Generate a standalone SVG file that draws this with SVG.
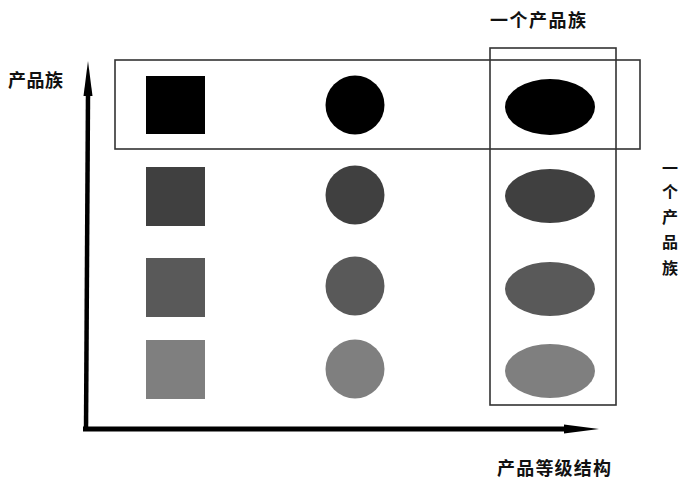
<svg xmlns="http://www.w3.org/2000/svg" width="685" height="482" viewBox="0 0 685 482">
<style>
.t{font-family:"Noto Sans CJK SC","Noto Sans CJK JP",sans-serif;font-weight:700;font-size:18px;fill:#111}
.v{font-family:"Noto Sans CJK SC","Noto Sans CJK JP",sans-serif;font-weight:700;font-size:16px;fill:#111}
.box{fill:none;stroke:#333;stroke-width:1.6}
</style>
<rect width="685" height="482" fill="#fff"/>
<g id="axes">
<line x1="83" y1="429" x2="566" y2="429" stroke="#000" stroke-width="5"/>
<polygon points="564,424.5 599,429 564,433.5" fill="#000"/>
<line x1="86" y1="431" x2="88" y2="94" stroke="#000" stroke-width="4.5"/>
<polygon points="83.5,96 88,61 92.5,96" fill="#000"/>
</g>
<g id="row1">
<rect x="146" y="76" width="59" height="58" fill="#000"/>
<circle cx="355" cy="105" r="29.5" fill="#000"/>
<ellipse cx="550" cy="107" rx="45" ry="28" fill="#000"/>
</g>
<g id="row2">
<rect x="146" y="167" width="59" height="59" fill="#404040"/>
<circle cx="355" cy="195" r="29.5" fill="#404040"/>
<ellipse cx="550" cy="196" rx="45" ry="27" fill="#404040"/>
</g>
<g id="row3">
<rect x="146" y="258" width="59" height="59" fill="#595959"/>
<circle cx="355" cy="286" r="29.5" fill="#595959"/>
<ellipse cx="550" cy="289" rx="45" ry="27" fill="#595959"/>
</g>
<g id="row4">
<rect x="146" y="340" width="59" height="59" fill="#7f7f7f"/>
<circle cx="355" cy="369" r="29.5" fill="#7f7f7f"/>
<ellipse cx="550" cy="371" rx="45" ry="27" fill="#7f7f7f"/>
</g>
<g id="family-box">
<rect class="box" x="115" y="60" width="525" height="89"/>
</g>
<g id="level-box">
<rect class="box" x="490" y="48" width="126" height="357"/>
</g>
<g id="labels">
<text class="t" x="490" y="27" textLength="96" lengthAdjust="spacing">一个产品族</text>
<text class="t" x="8" y="87" textLength="55" lengthAdjust="spacing">产品族</text>
<text class="t" x="497" y="475" textLength="114" lengthAdjust="spacing">产品等级结构</text>
<text class="v" x="670" y="174" text-anchor="middle">一</text>
<text class="v" x="670" y="198" text-anchor="middle">个</text>
<text class="v" x="670" y="223" text-anchor="middle">产</text>
<text class="v" x="670" y="248" text-anchor="middle">品</text>
<text class="v" x="670" y="274" text-anchor="middle">族</text>
</g>
</svg>
